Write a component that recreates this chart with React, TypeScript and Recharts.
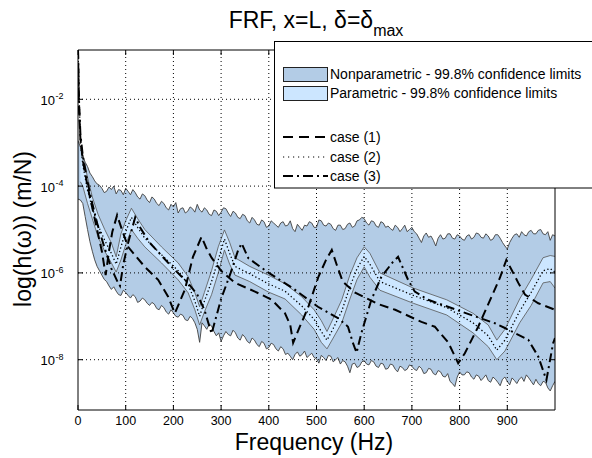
import React from 'react';
import { ComposedChart, Area, Line, XAxis, YAxis, ReferenceLine, ReferenceArea } from 'recharts';

// frequency grid of the nonparametric limits (Hz)
const npFreq = [
  0, 5, 10, 15, 20, 25, 30, 35, 40, 45, 50, 55, 60, 65, 70, 75, 80, 85, 90, 95,
  100, 105, 110, 115, 120, 125, 130, 135, 140, 145, 150, 155, 160, 165, 170, 175, 180, 185, 190, 195,
  200, 205, 210, 215, 220, 225, 230, 235, 240, 245, 250, 255, 260, 265, 270, 275, 280, 285, 290, 295,
  300, 305, 310, 315, 320, 325, 330, 335, 340, 345, 350, 355, 360, 365, 370, 375, 380, 385, 390, 395,
  400, 405, 410, 415, 420, 425, 430, 435, 440, 445, 450, 455, 460, 465, 470, 475, 480, 485, 490, 495,
  500, 505, 510, 515, 520, 525, 530, 535, 540, 545, 550, 555, 560, 565, 570, 575, 580, 585, 590, 595,
  600, 605, 610, 615, 620, 625, 630, 635, 640, 645, 650, 655, 660, 665, 670, 675, 680, 685, 690, 695,
  700, 705, 710, 715, 720, 725, 730, 735, 740, 745, 750, 755, 760, 765, 770, 775, 780, 785, 790, 795,
  800, 805, 810, 815, 820, 825, 830, 835, 840, 845, 850, 855, 860, 865, 870, 875, 880, 885, 890, 895,
  900, 905, 910, 915, 920, 925, 930, 935, 940, 945, 950, 955, 960, 965, 970, 975, 980, 985, 990, 995,
  1000,
];
// log10 |h| (m/N)
const npUpper = [
  -2.95, -3.1, -3.3, -3.45, -3.55, -3.7, -3.78, -3.88, -3.95, -3.98, -4.05, -4.15, -4.12, -4.02, -4.08, -4.0, -4.18, -4.08, -4.1, -4.2,
  -4.05, -4.12, -4.2, -4.08, -4.15, -4.25, -4.3, -4.18, -4.22, -4.32, -4.38, -4.25, -4.3, -4.4, -4.45, -4.35, -4.4, -4.5, -4.55, -4.42,
  -4.48, -4.38, -4.62, -4.52, -4.5, -4.62, -4.58, -4.48, -4.52, -4.6, -4.42, -4.55, -4.6, -4.5, -4.55, -4.65, -4.68, -4.55, -4.58, -4.68,
  -4.6, -4.5, -4.52, -4.62, -4.7, -4.58, -4.62, -4.72, -4.75, -4.65, -4.68, -4.8, -4.85, -4.72, -4.78, -4.88, -4.9, -4.78, -4.82, -4.95,
  -4.92, -4.8, -4.85, -4.9, -4.95, -4.85, -4.82, -4.92, -4.9, -4.8, -4.98, -5.05, -4.88, -4.95, -5.02, -4.9, -4.92, -4.82, -4.85, -4.95,
  -4.95, -4.78, -4.8, -4.9, -4.92, -4.85, -4.88, -4.98, -5.02, -4.9, -4.9, -5.0, -4.98, -4.88, -4.85, -4.95, -4.92, -4.8, -4.78, -4.72,
  -4.75, -4.85, -4.9, -4.8, -4.82, -4.92, -4.95, -4.82, -4.85, -4.95, -4.92, -4.98, -5.02, -4.9, -4.95, -5.05, -4.98, -4.9, -5.05, -5.0,
  -4.95, -5.05, -5.1, -5.2, -5.3, -5.15, -5.08, -5.18, -5.15, -5.25, -5.38, -5.2, -5.12, -5.22, -5.2, -5.1, -5.1, -5.2, -5.22, -5.12,
  -5.15, -5.22, -5.25, -5.15, -5.12, -5.22, -5.18, -5.08, -5.1, -5.18, -5.2, -5.1, -5.15, -5.25, -5.22, -5.12, -5.12, -5.2, -5.3, -5.38,
  -5.45, -5.3, -5.2, -5.12, -5.1, -5.18, -5.05, -5.12, -5.15, -5.05, -5.02, -5.1, -5.1, -5.02, -5.0, -5.1, -5.12, -5.05, -5.25, -5.12,
  -5.15,
];
const npLower = [
  -4.3, -4.32, -4.4, -4.7, -5.0, -5.28, -5.5, -5.7, -5.85, -5.95, -6.05, -6.15, -6.2, -6.3, -6.38, -6.32, -6.42, -6.5, -6.52, -6.4,
  -6.45, -6.52, -6.58, -6.5, -6.55, -6.68, -6.65, -6.58, -6.62, -6.7, -6.75, -6.68, -6.72, -6.82, -6.85, -6.75, -6.8, -6.9, -6.95, -6.85,
  -6.92, -7.0, -7.02, -6.95, -6.98, -7.08, -7.1, -7.0, -7.05, -7.15, -7.3, -7.6, -7.15, -7.22, -7.3, -7.18, -7.22, -7.35, -7.45, -7.38,
  -7.58, -7.45, -7.35, -7.42, -7.45, -7.32, -7.38, -7.5, -7.55, -7.42, -7.48, -7.58, -7.62, -7.5, -7.55, -7.65, -7.7, -7.58, -7.62, -7.75,
  -7.72, -7.62, -7.65, -7.75, -7.8, -7.7, -7.75, -7.88, -7.85, -7.92, -8.0, -7.88, -7.82, -7.92, -7.88, -7.8, -7.95, -7.9, -7.85, -7.95,
  -7.98, -8.08, -7.9, -7.95, -8.02, -7.9, -7.92, -8.05, -8.0, -7.95, -8.1, -8.02, -8.05, -8.15, -8.3, -8.1, -8.08, -8.18, -8.15, -8.05,
  -8.02, -8.1, -8.12, -8.02, -8.05, -8.15, -8.18, -8.08, -8.1, -8.22, -8.2, -8.1, -8.12, -8.22, -8.28, -8.15, -8.18, -8.25, -8.22, -8.12,
  -8.15, -8.22, -8.25, -8.15, -8.2, -8.32, -8.3, -8.2, -8.22, -8.32, -8.35, -8.25, -8.28, -8.38, -8.4, -8.32, -8.5, -8.55, -8.62, -8.4,
  -8.28, -8.35, -8.35, -8.28, -8.3, -8.4, -8.45, -8.35, -8.38, -8.48, -8.42, -8.35, -8.48, -8.52, -8.4, -8.45, -8.52, -8.6, -8.45, -8.4,
  -8.5, -8.58, -8.42, -8.48, -8.55, -8.45, -8.4, -8.5, -8.35, -8.42, -8.5, -8.58, -8.45, -8.55, -8.6, -8.5, -8.52, -8.65, -8.72, -8.6,
  -8.5,
];

// parametric limits
const parFreq = [
  5, 10, 20, 30, 42, 56, 70, 80, 90, 100, 112, 125, 140, 175, 210, 231, 245,
  255, 265, 280, 294, 307, 318, 329, 360, 399, 434, 469, 495, 510, 522, 535,
  553, 570, 585, 600, 612, 633, 703, 773, 828, 860, 878, 895, 926, 950, 975,
  990, 1000,
];
const parLower = [
  -3.9, -4.0, -4.4, -4.75, -5.17, -5.5, -5.77, -5.98, -5.7, -5.35, -5.0, -5.2, -5.4, -5.77, -6.16, -6.46, -6.85,
  -7.2, -6.9, -6.5, -6.0, -5.47, -5.8, -6.05, -6.2, -6.44, -6.6, -6.97, -7.3, -7.6, -7.75, -7.5,
  -7.15, -6.6, -6.15, -5.86, -6.1, -6.4, -6.7, -6.97, -7.38, -7.7, -8.0, -7.8, -7.15, -6.75, -6.23,
  -6.2, -6.35,
];
const parUpper = [
  -3.1, -3.3, -3.8, -4.25, -4.65, -5.0, -5.31, -5.63, -5.1, -4.8, -4.51, -4.75, -5.0, -5.4, -5.77, -6.09, -6.46,
  -6.78, -6.45, -5.95, -5.4, -5.01, -5.3, -5.65, -5.85, -6.05, -6.25, -6.55, -6.85, -7.1, -7.35, -7.05,
  -6.62, -6.05, -5.65, -5.4, -5.55, -6.0, -6.35, -6.62, -6.93, -7.2, -7.55, -7.3, -6.6, -6.15, -5.65,
  -5.6, -5.62,
];

// case (1)
const case1Freq = [
  0, 2, 5, 10, 20, 30, 40, 50, 58, 65, 72, 82, 92, 105, 140, 168, 189, 203,
  224, 241, 259, 270, 280, 300, 329, 371, 406, 434, 445, 451, 465, 483, 504,
  520, 532, 542, 555, 580, 630, 665, 720, 748, 776, 797, 811, 839, 867, 885,
  898, 910, 923, 937, 965, 1000,
];
const case1Val = [
  -0.86, -2.2, -2.9, -3.4, -4.0, -4.5, -5.0, -5.5, -6.05, -5.5, -5.05, -4.67, -5.0, -5.4, -5.86, -6.16, -6.55, -6.93,
  -6.39, -5.63, -5.17, -5.45, -5.65, -5.95, -6.23, -6.43, -6.62, -6.93, -7.2, -7.61, -7.24, -6.78, -6.09,
  -5.7, -5.47, -5.8, -6.2, -6.45, -6.72, -6.85, -7.13, -7.24, -7.6, -8.08, -7.85, -7.24, -6.55, -6.1,
  -5.7, -5.95, -6.23, -6.5, -6.7, -6.85,
];

// case (2)
const case2Freq = [
  0, 5, 10, 20, 30, 42, 56, 70, 80, 90, 100, 112, 125, 140, 175, 210, 231, 245,
  255, 265, 280, 294, 307, 318, 329, 360, 399, 434, 469, 495, 510, 522, 535,
  553, 570, 585, 600, 612, 633, 703, 773, 828, 860, 878, 895, 926, 950, 975,
  990, 1000,
];
const case2Val = [
  -0.86, -3.0, -3.5, -4.1, -4.5, -4.9, -5.25, -5.55, -5.8, -5.4, -5.05, -4.72, -4.95, -5.2, -5.58, -5.95, -6.27, -6.65,
  -7.0, -6.65, -6.2, -5.7, -5.22, -5.55, -5.85, -6.02, -6.25, -6.42, -6.76, -7.07, -7.35, -7.55, -7.28,
  -6.88, -6.32, -5.9, -5.62, -5.8, -6.2, -6.52, -6.8, -7.15, -7.45, -7.78, -7.55, -6.88, -6.45, -5.95,
  -5.9, -5.98,
];

// case (3)
const case3Freq = [
  0, 2, 5, 10, 20, 30, 40, 55, 70, 84, 88, 95, 105, 120, 130, 150, 175, 200,
  228, 250, 265, 280, 290, 300, 320, 335, 343, 357, 400, 450, 503, 545, 566,
  576, 584, 594, 615, 636, 660, 671, 692, 706, 734, 783, 832, 874, 895, 944,
  965, 982, 996, 1000,
];
const case3Val = [
  -0.86, -2.0, -2.8, -3.3, -3.9, -4.4, -4.85, -5.4, -5.9, -6.23, -6.3, -5.8, -5.31, -4.72, -4.95, -5.3, -5.6, -5.9,
  -6.2, -6.5, -6.85, -7.4, -7.0, -6.6, -6.0, -5.5, -5.32, -5.66, -6.0, -6.35, -6.78, -7.04, -7.24,
  -7.6, -7.84, -7.39, -6.62, -6.09, -5.75, -5.63, -6.16, -6.43, -6.62, -6.81, -7.0, -7.16, -7.27, -7.54,
  -7.93, -8.47, -7.62, -7.5,
];

const xTicks = [0, 100, 200, 300, 400, 500, 600, 700, 800, 900];
const yTicks = [-8, -6, -4, -2];
const gridX = [100, 200, 300, 400, 500, 600, 700, 800, 900];

const X_MIN = 0;
const X_MAX = 1000;
const Y_MIN = -9.159;
const Y_MAX = -0.864;

const PLOT_LEFT = 78;
const PLOT_RIGHT = 555;
const PLOT_TOP = 50;
const PLOT_BOTTOM = 410;

const NP_FILL = '#b3cce6';
const PAR_FILL = '#cce6ff';
const FONT = "'Liberation Sans', Arial, sans-serif";

const npData = npFreq.map((f, i) => ({ f, range: [npLower[i], npUpper[i]] }));
const parData = parFreq.map((f, i) => ({ f, range: [parLower[i], parUpper[i]] }));
const case1Data = case1Freq.map((f, i) => ({ f, v: case1Val[i] }));
const case2Data = case2Freq.map((f, i) => ({ f, v: case2Val[i] }));
const case3Data = case3Freq.map((f, i) => ({ f, v: case3Val[i] }));

const XTick = (props: any) => {
  const { x, payload } = props;
  return (
    <g>
      <line x1={x} x2={x} y1={PLOT_BOTTOM} y2={PLOT_BOTTOM - 5} stroke="#000" />
      <line x1={x} x2={x} y1={PLOT_TOP} y2={PLOT_TOP + 5} stroke="#000" />
      <text x={x} y={425} textAnchor="middle" fontSize={12.5} fontFamily={FONT} fill="#000">
        {payload.value}
      </text>
    </g>
  );
};

const YTick = (props: any) => {
  const { y, payload } = props;
  return (
    <g>
      <line x1={PLOT_LEFT} x2={PLOT_LEFT + 5} y1={y} y2={y} stroke="#000" />
      <line x1={PLOT_RIGHT} x2={PLOT_RIGHT - 5} y1={y} y2={y} stroke="#000" />
      <text x={55} y={y + 5.5} textAnchor="end" fontSize={13} fontFamily={FONT} fill="#000">
        10
      </text>
      <text x={55.5} y={y} fontSize={9} fontFamily={FONT} fill="#000">
        {payload.value}
      </text>
    </g>
  );
};

export default function App() {
  return (
    <div style={{ position: 'absolute', left: 0, top: 0, width: 592, height: 458, overflow: 'hidden', background: '#fff' }}>
      <ComposedChart width={592} height={458} margin={{ top: 50, right: 37, bottom: 18, left: 18 }}>
        <XAxis
          dataKey="f"
          type="number"
          domain={[X_MIN, X_MAX]}
          ticks={xTicks}
          tick={<XTick />}
          tickLine={false}
          axisLine={false}
          height={30}
          allowDataOverflow
        />
        <YAxis
          type="number"
          domain={[Y_MIN, Y_MAX]}
          ticks={yTicks}
          tick={<YTick />}
          tickLine={false}
          axisLine={false}
          width={60}
          allowDataOverflow
        />
        <Area
          data={npData}
          dataKey="range"
          type="linear"
          fill={NP_FILL}
          fillOpacity={1}
          stroke="#404040"
          strokeWidth={0.9}
          dot={false}
          activeDot={false}
          isAnimationActive={false}
        />
        <Area
          data={parData}
          dataKey="range"
          type="linear"
          fill={PAR_FILL}
          fillOpacity={1}
          stroke="#555"
          strokeWidth={0.8}
          dot={false}
          activeDot={false}
          isAnimationActive={false}
        />
        {gridX.map((gx) => (
          <ReferenceLine key={'gx' + gx} x={gx} stroke="#000" strokeDasharray="1 3" />
        ))}
        {yTicks.map((gy) => (
          <ReferenceLine key={'gy' + gy} y={gy} stroke="#000" strokeDasharray="1 3" />
        ))}
        <Line data={case1Data} dataKey="v" type="linear" stroke="#000" strokeWidth={2} strokeDasharray="9 5" dot={false} activeDot={false} isAnimationActive={false} />
        <Line data={case2Data} dataKey="v" type="linear" stroke="#000" strokeWidth={1.3} strokeDasharray="1.3 2.4" dot={false} activeDot={false} isAnimationActive={false} />
        <Line data={case3Data} dataKey="v" type="linear" stroke="#000" strokeWidth={2} strokeDasharray="9 4 2 4" dot={false} activeDot={false} isAnimationActive={false} />
        <ReferenceArea x1={X_MIN} x2={X_MAX} y1={Y_MIN} y2={Y_MAX} fill="none" stroke="#000" strokeWidth={1} />
      </ComposedChart>

      <svg width={592} height={458} style={{ position: 'absolute', left: 0, top: 0, pointerEvents: 'none' }} fontFamily={FONT}>
        <text x={316} y={28} textAnchor="middle" fontSize={23} fill="#000">
          FRF, x=L, δ=δ<tspan fontSize={16} dy={8}>max</tspan>
        </text>
        <text x={314} y={450} textAnchor="middle" fontSize={23} fill="#000">
          Frequency (Hz)
        </text>
        <text x={31} y={229} textAnchor="middle" fontSize={23} fill="#000" transform="rotate(-90 31 229)">
          log(h(ω)) (m/N)
        </text>

        <rect x={274.5} y={41.5} width={330} height={146.5} fill="#fff" stroke="#000" />
        <rect x={283.5} y={67.5} width={44} height={14} fill={NP_FILL} stroke="#222" />
        <text x={330} y={79} fontSize={14} fill="#000">Nonparametric - 99.8% confidence limits</text>
        <rect x={283.5} y={86.5} width={44} height={14} fill={PAR_FILL} stroke="#222" />
        <text x={330} y={98} fontSize={14} fill="#000">Parametric - 99.8% confidence limits</text>
        <line x1={283} x2={328} y1={137} y2={137} stroke="#000" strokeWidth={2} strokeDasharray="10 6" />
        <text x={330} y={142} fontSize={14} fill="#000">case (1)</text>
        <line x1={283} x2={328} y1={157} y2={157} stroke="#000" strokeWidth={1.2} strokeDasharray="1.2 3.8" />
        <text x={330} y={162} fontSize={14} fill="#000">case (2)</text>
        <line x1={283} x2={328} y1={176} y2={176} stroke="#000" strokeWidth={2} strokeDasharray="10 4 2 4" />
        <text x={330} y={181} fontSize={14} fill="#000">case (3)</text>
      </svg>
    </div>
  );
}
